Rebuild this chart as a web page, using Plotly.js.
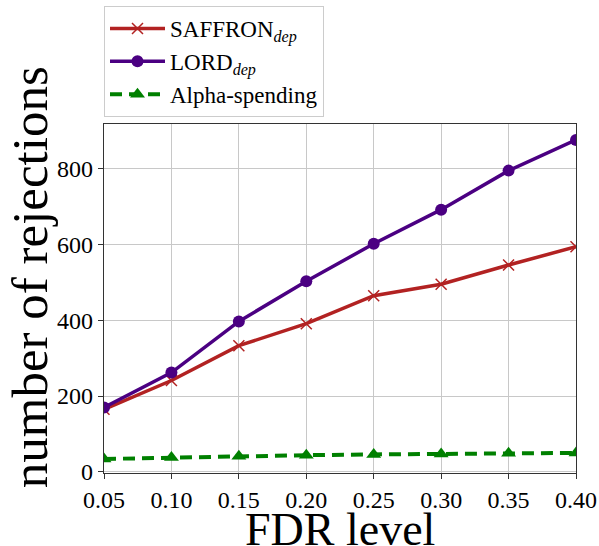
<!DOCTYPE html>
<html><head><meta charset="utf-8">
<script src="https://cdn.plot.ly/plotly-3.0.1.min.js"></script>
<style>body{margin:0;padding:0;background:#fff}#chart{width:599px;height:546px}</style>
</head><body><div id="chart"></div>
<script>
const fdrLevels = [0.05, 0.10, 0.15, 0.20, 0.25, 0.30, 0.35, 0.40];
const saffron = [165, 241, 333, 391, 465, 495, 546, 594];
const lord = [170, 262, 397, 503, 602, 692, 795, 876];
const alphaSpending = [34, 38, 41, 44, 46, 47, 49, 50];
const xTickVals = [0.05, 0.10, 0.15, 0.20, 0.25, 0.30, 0.35, 0.40];
const xTickText = ["0.05","0.10","0.15","0.20","0.25","0.30","0.35","0.40"];
const yTickVals = [0, 200, 400, 600, 800];
const xTitle = "FDR level";
const yTitle = "number of rejections";

const font = "Liberation Serif, DejaVu Serif, serif";
const traces = [
  {x: fdrLevels, y: saffron, name: "SAFFRON<sub><i>dep</i></sub>", mode: "lines+markers",
   line: {color: "#b22222", width: 3.5}, marker: {symbol: "x-thin-open", size: 11, color: "#b22222", line: {width: 1.5, color: "#b22222"}}},
  {x: fdrLevels, y: lord, name: "LORD<sub><i>dep</i></sub>", mode: "lines+markers",
   line: {color: "#4b0082", width: 3.5}, marker: {symbol: "circle", size: 12, color: "#4b0082"}},
  {x: fdrLevels, y: alphaSpending, name: "Alpha-spending", mode: "lines+markers",
   line: {color: "#008000", width: 4, dash: "12px,7px"}, marker: {symbol: "triangle-up", size: 13, color: "#008000"}}
];
const layout = {
  width: 599, height: 546,
  margin: {l: 104, r: 23, t: 6, b: 73},
  paper_bgcolor: "#fff", plot_bgcolor: "#fff",
  font: {family: font, color: "#000"},
  showlegend: true,
  legend: {x: 0, xanchor: "left", y: 1, yanchor: "top",
           bgcolor: "#fff", bordercolor: "#cccccc", borderwidth: 1,
           font: {family: font, size: 23}, itemwidth: 55, tracegroupgap: 0},
  xaxis: {range: [0.05, 0.40], tickvals: xTickVals, ticktext: xTickText, showgrid: true, gridcolor: "#c8c8c8", gridwidth: 1,
          zeroline: false, showline: true, linecolor: "#333", linewidth: 1.2, mirror: true, ticks: "outside", ticklen: 5,
          tickcolor: "#333", tickfont: {family: font, size: 24}, automargin: false},
  yaxis: {domain: [0, 0.7473], range: [-3, 918], tickvals: yTickVals, showgrid: true, gridcolor: "#c8c8c8", gridwidth: 1,
          zeroline: false, showline: true, linecolor: "#333", linewidth: 1.2, mirror: true, ticks: "outside", ticklen: 5,
          tickcolor: "#333", tickfont: {family: font, size: 24}, automargin: false},
  annotations: [
    {text: xTitle, xref: "paper", yref: "paper", x: 0.5, y: -0.122, xanchor: "center", yanchor: "middle",
     showarrow: false, font: {family: font, size: 46}},
    {text: yTitle, xref: "paper", yref: "paper", x: -0.158, y: 0.42, xanchor: "center", yanchor: "middle",
     textangle: -90, showarrow: false, font: {family: font, size: 51}}
  ]
};
Plotly.newPlot("chart", traces, layout, {displayModeBar: false, staticPlot: true});
</script></body></html>
